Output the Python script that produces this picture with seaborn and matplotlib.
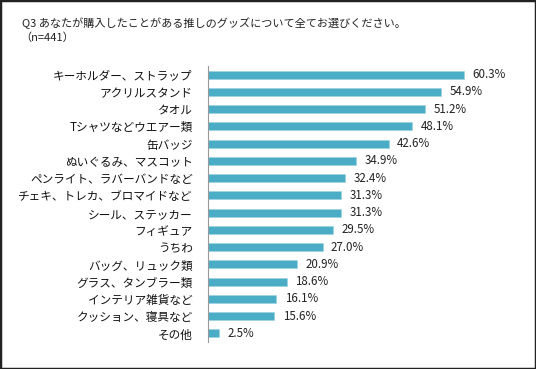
import numpy as np
import pandas as pd
import matplotlib
matplotlib.use('Agg')
import matplotlib.pyplot as plt
from matplotlib.patches import Rectangle
from matplotlib.ticker import FixedLocator
import seaborn as sns

# data
items = ['キーホルダー、ストラップ', 'アクリルスタンド', 'タオル', 'Tシャツなどウエアー類',
         '缶バッジ', 'ぬいぐるみ、マスコット', 'ペンライト、ラバーバンドなど',
         'チェキ、トレカ、ブロマイドなど', 'シール、ステッカー', 'フィギュア', 'うちわ',
         'バッグ、リュック類', 'グラス、タンブラー類', 'インテリア雑貨など',
         'クッション、寝具など', 'その他']
pct = [60.3, 54.9, 51.2, 48.1, 42.6, 34.9, 32.4, 31.3, 31.3, 29.5, 27.0,
       20.9, 18.6, 16.1, 15.6, 2.5]

title = 'Q3 あなたが購入したことがある推しのグッズについて全てお選びください。'
subtitle = '（n=441）'

sns.set_style('white')
plt.rcParams['font.family'] = ['Noto Sans CJK JP', 'DejaVu Sans']

df = pd.DataFrame({'item': items, 'pct': pct})

fig = plt.figure(figsize=(5.36, 3.69), dpi=100)
ax = fig.add_axes([208 / 536, 1 - 342 / 369, 297 / 536, 276 / 369])

sns.barplot(data=df, y='item', x='pct', orient='h', color='#4BACC6',
            saturation=1, width=0.45, ax=ax, edgecolor='#9fd3e2', linewidth=0.5)

# value labels
for i, v in enumerate(pct):
    ax.text(v + 2, i, f'{v:.1f}%', va='center', ha='left', fontsize=8.3,
            color='#222222')

ax.set_xlim(0, 70)
ax.set_ylim(len(items) - 0.5, -0.5)
ax.set_xlabel('')
ax.set_ylabel('')
ax.set_xticks([])

# ticks between categories, pointing inward
ax.tick_params(axis='y', which='major', length=0, pad=11, labelsize=8.4,
               labelcolor='#111111')
ax.yaxis.set_minor_locator(FixedLocator(np.arange(-0.5, len(items), 1)))
ax.tick_params(axis='y', which='minor', direction='in', length=4,
               color='#999999', width=0.8)

for s in ['top', 'right', 'bottom']:
    ax.spines[s].set_visible(False)
ax.spines['left'].set_color('#999999')
ax.spines['left'].set_linewidth(0.8)

fig.text(22 / 536, 1 - 23 / 369, title, fontsize=8.0, va='center', ha='left',
         color='#222222')
fig.text(20 / 536, 1 - 38 / 369, subtitle, fontsize=8.0, va='center', ha='left',
         color='#222222')

# outer frame
fig.add_artist(Rectangle((0, 0), 1, 1, transform=fig.transFigure, fill=False,
                         lw=2.5, ec='#222222'))

fig.savefig('out.png', dpi=100)
